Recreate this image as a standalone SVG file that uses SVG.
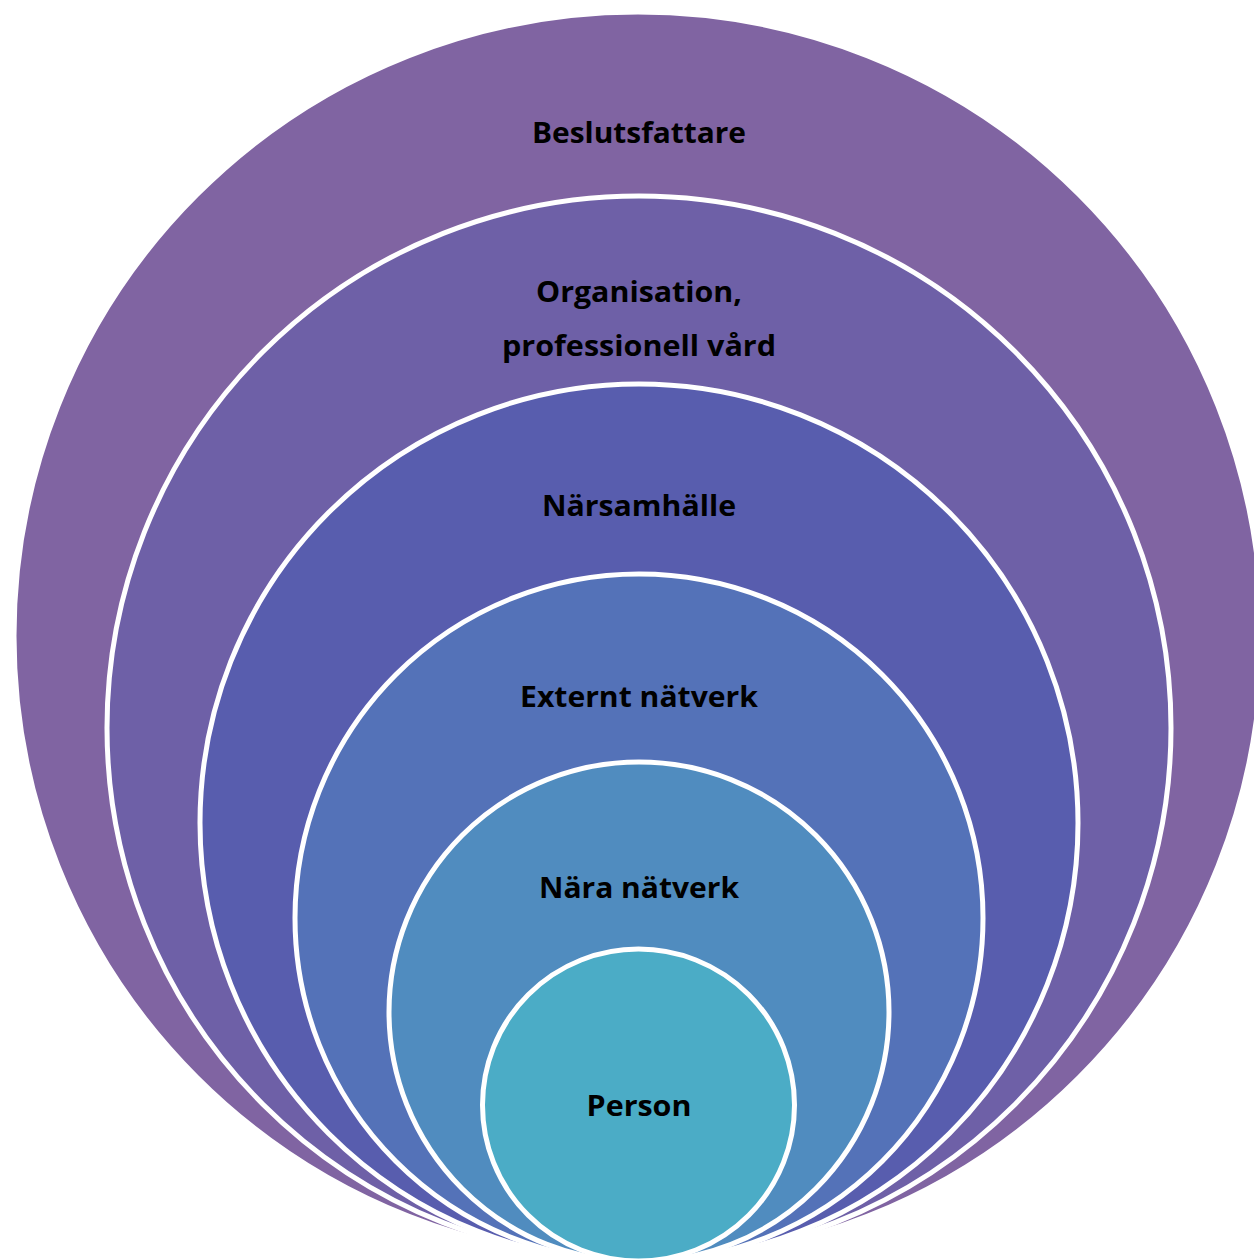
<svg xmlns="http://www.w3.org/2000/svg" width="1254" height="1259" viewBox="0 0 1254 1259">
<style>
.ring{stroke:#ffffff;stroke-width:5}
.lbl{font-family:"Open Sans","Liberation Sans",sans-serif;font-weight:bold;font-size:28px;fill:#000000;text-anchor:middle}
</style>
<rect width="1254" height="1259" fill="#ffffff"/>
<g id="beslutsfattare">
<circle class="ring" cx="638" cy="636" r="624" fill="#8064A2"/>
<text class="lbl" x="639" y="143" textLength="214" lengthAdjust="spacingAndGlyphs">Beslutsfattare</text>
</g>
<g id="organisation">
<circle class="ring" cx="639" cy="728" r="532" fill="#6E60A7"/>
<text class="lbl" x="639" y="302" textLength="206" lengthAdjust="spacingAndGlyphs">Organisation,</text>
<text class="lbl" x="639" y="356" textLength="274" lengthAdjust="spacingAndGlyphs">professionell vård</text>
</g>
<g id="narsamhalle">
<circle class="ring" cx="639" cy="823" r="439" fill="#585DAE"/>
<text class="lbl" x="639" y="516" textLength="194" lengthAdjust="spacingAndGlyphs">Närsamhälle</text>
</g>
<g id="externt">
<circle class="ring" cx="639" cy="918" r="344" fill="#5472B8"/>
<text class="lbl" x="639" y="707" textLength="238" lengthAdjust="spacingAndGlyphs">Externt nätverk</text>
</g>
<g id="nara">
<circle class="ring" cx="639" cy="1012" r="250" fill="#508CBF"/>
<text class="lbl" x="639" y="898" textLength="200" lengthAdjust="spacingAndGlyphs">Nära nätverk</text>
</g>
<g id="person">
<circle class="ring" cx="638.5" cy="1105" r="156" fill="#4BACC6"/>
<text class="lbl" x="639" y="1116" textLength="105" lengthAdjust="spacingAndGlyphs">Person</text>
</g>
<g id="connectors"/>
</svg>
